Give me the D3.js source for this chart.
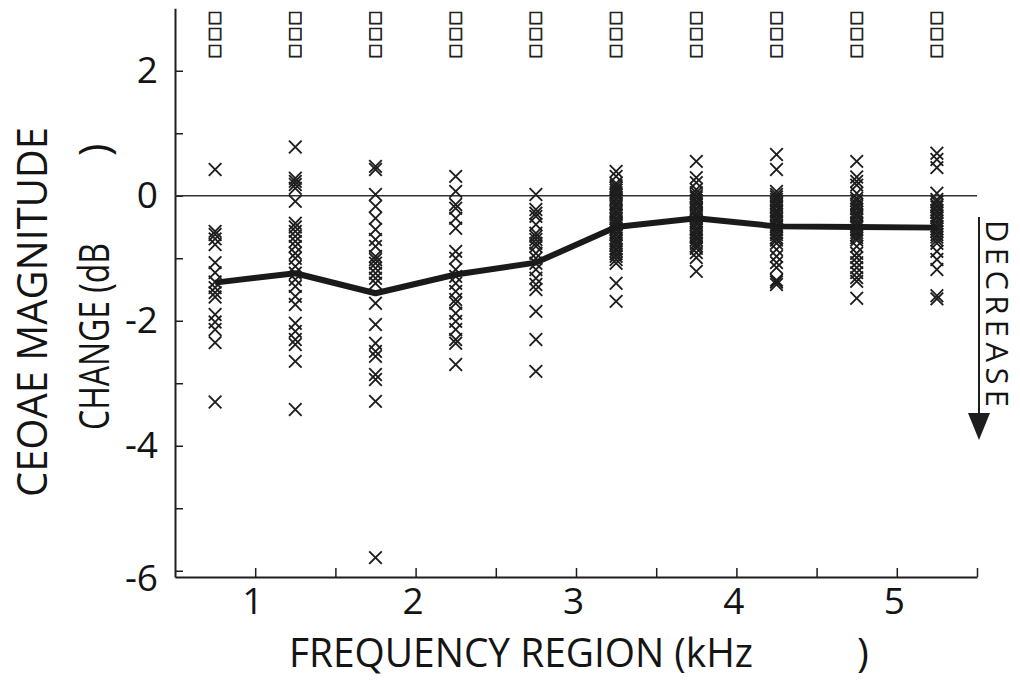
<!DOCTYPE html>
<html>
<head>
<meta charset="utf-8">
<script src="https://cdn.jsdelivr.net/npm/d3@7/dist/d3.min.js"></script>
<style>
  html, body { margin: 0; padding: 0; background: #fff; }
  svg { display: block; }
  text { font-family: "Open Sans", "Liberation Sans", sans-serif; fill: #141414; }
</style>
</head>
<body>
<svg id="chart" width="1020" height="683"></svg>
<script>
// ---------------- DATA ----------------
const regions = [0.75, 1.25, 1.75, 2.25, 2.75, 3.25, 3.75, 4.25, 4.75, 5.25];
const meanChange = [-1.39, -1.24, -1.56, -1.26, -1.07, -0.50, -0.36, -0.49, -0.50, -0.51];

const ears075 = [0.42, -0.57, -0.62, -0.69, -0.78, -1.07, -1.23, -1.38, -1.47, -1.55, -1.62, -1.90, -2.02, -2.14, -2.35, -3.30];
const ears125 = [0.78, 0.28, 0.23, 0.18, 0.12, -0.09, -0.44, -0.50, -0.57, -0.65, -0.73, -0.81, -0.92, -1.00, -1.13, -1.24, -1.34, -1.45, -1.61, -1.74, -2.04, -2.17, -2.30, -2.38, -2.65, -3.42];
const ears175 = [0.47, 0.42, 0.02, -0.17, -0.36, -0.54, -0.70, -0.81, -0.97, -1.02, -1.08, -1.16, -1.24, -1.32, -1.40, -1.72, -2.06, -2.36, -2.49, -2.57, -2.86, -2.94, -3.29, -5.79];
const ears225 = [0.31, 0.07, -0.14, -0.20, -0.36, -0.52, -0.89, -1.00, -1.18, -1.29, -1.40, -1.53, -1.66, -1.72, -1.88, -2.01, -2.14, -2.30, -2.36, -2.70];
const ears275 = [0.02, -0.22, -0.28, -0.33, -0.46, -0.60, -0.65, -0.70, -0.76, -0.81, -0.92, -1.00, -1.08, -1.18, -1.32, -1.42, -1.50, -1.85, -2.30, -2.81];
const ears325 = [0.39, 0.31, 0.20, 0.16, 0.12, 0.09, 0.05, 0.01, -0.04, -0.07, -0.12, -0.15, -0.19, -0.24, -0.27, -0.31, -0.36, -0.40, -0.44, -0.47, -0.52, -0.55, -0.60, -0.63, -0.68, -0.72, -0.76, -0.80, -0.85, -0.88, -0.93, -0.97, -1.02, -1.08, -1.40, -1.69];
const ears375 = [0.55, 0.29, 0.21, 0.10, 0.05, 0.00, -0.03, -0.08, -0.11, -0.15, -0.20, -0.23, -0.28, -0.31, -0.35, -0.40, -0.43, -0.47, -0.52, -0.55, -0.59, -0.64, -0.67, -0.71, -0.76, -0.80, -0.84, -0.91, -0.99, -1.21];
const ears425 = [0.66, 0.42, 0.07, 0.02, -0.02, -0.06, -0.11, -0.14, -0.18, -0.23, -0.26, -0.30, -0.35, -0.38, -0.42, -0.47, -0.50, -0.54, -0.59, -0.62, -0.67, -0.71, -0.76, -0.86, -0.97, -1.07, -1.15, -1.35, -1.38, -1.42];
const ears475 = [0.55, 0.30, 0.23, 0.17, 0.04, -0.04, -0.08, -0.13, -0.17, -0.21, -0.26, -0.30, -0.33, -0.38, -0.43, -0.46, -0.50, -0.55, -0.59, -0.63, -0.67, -0.71, -0.81, -0.92, -0.99, -1.07, -1.15, -1.23, -1.31, -1.37, -1.64];
const ears525 = [0.68, 0.58, 0.45, 0.04, -0.06, -0.10, -0.15, -0.18, -0.23, -0.27, -0.32, -0.35, -0.40, -0.44, -0.49, -0.53, -0.57, -0.62, -0.66, -0.71, -0.76, -0.89, -1.02, -1.18, -1.60, -1.65];

const xTickValues = [1, 1.5, 2, 2.5, 3, 3.5, 4, 4.5, 5, 5.5];
const xTickLabels = ["1", "", "2", "", "3", "", "4", "", "5", ""];
const yTickValues = [2, 1, 0, -1, -2, -3, -4, -5, -6];
const yTickLabels = ["2", "", "0", "", "-2", "", "-4", "", "-6"];
const squareMarks = ["\u25A1", "\u25A1", "\u25A1"];

const yTitleLine1 = "CEOAE MAGNITUDE";
const yTitleLine2 = "CHANGE (dB";
const xTitle = "FREQUENCY REGION (kHz";
const closeParen = ")";
const arrowLabel = "DECREASE";

// ---------------- CHART ----------------
const svg = d3.select("#chart");
const ink = "#1e1e1e";

const x = d3.scaleLinear().domain([0.5, 5.5]).range([175, 977]);
const y = d3.scaleLinear().domain([-6.1, 3]).range([577, 8.25]);

// x axis
const xAxis = d3.axisBottom(x)
  .tickValues(xTickValues)
  .tickFormat((d, i) => xTickLabels[i])
  .tickSizeInner(-9)
  .tickSizeOuter(0)
  .tickPadding(11);
const gx = svg.append("g").attr("transform", `translate(0,${y(-6.1)})`).call(xAxis);
gx.select(".domain").attr("stroke", ink).attr("stroke-width", 2);
gx.selectAll(".tick line").attr("stroke", ink).attr("stroke-width", 1.5);
gx.selectAll(".tick text").attr("font-size", 37).attr("fill", "#141414")
  .attr("font-family", "Open Sans").attr("dx", "-0.08em");

// y axis
const yAxis = d3.axisLeft(y)
  .tickValues(yTickValues)
  .tickFormat((d, i) => yTickLabels[i])
  .tickSizeInner(-8)
  .tickSizeOuter(0)
  .tickPadding(17);
const gy = svg.append("g").attr("transform", `translate(${x(0.5)},0)`).call(yAxis);
gy.select(".domain").attr("stroke", ink).attr("stroke-width", 2);
gy.selectAll(".tick line").attr("stroke", ink).attr("stroke-width", 1.5);
gy.selectAll(".tick text").attr("font-size", 37).attr("fill", "#141414")
  .attr("font-family", "Open Sans");
gy.selectAll(".tick").filter(d => d === -6).select("text").attr("dy", "0.52em");

// zero reference line
svg.append("line")
  .attr("x1", x(0.5)).attr("x2", x(5.5))
  .attr("y1", y(0)).attr("y2", y(0))
  .attr("stroke", "#333").attr("stroke-width", 1.6);

// scatter points
const columns = [ears075, ears125, ears175, ears225, ears275, ears325, ears375, ears425, ears475, ears525];
const pts = [];
columns.forEach((vals, i) => vals.forEach(v => pts.push({ r: regions[i], v })));
const cross = "M-6.3,-6.3L6.3,6.3M-6.3,6.3L6.3,-6.3";
svg.append("g").selectAll("path").data(pts).join("path")
  .attr("d", cross)
  .attr("transform", d => `translate(${x(d.r)},${y(d.v)})`)
  .attr("fill", "none").attr("stroke", ink).attr("stroke-width", 1.9);

// mean line
const line = d3.line().x((d, i) => x(regions[i])).y(d => y(d));
svg.append("path").datum(meanChange)
  .attr("d", line)
  .attr("fill", "none").attr("stroke", "#1a1a1a").attr("stroke-width", 6)
  .attr("stroke-linejoin", "round");

// square marks above columns (three separate marks per column)
const sq = [];
regions.forEach(r => squareMarks.forEach((s, j) => sq.push({ r, j, s })));
svg.append("g").selectAll("text").data(sq).join("text")
  .attr("x", d => x(d.r))
  .attr("y", d => 16 + d.j * 16.5)
  .attr("text-anchor", "middle")
  .attr("dominant-baseline", "central")
  .attr("font-family", "DejaVu Sans").attr("font-size", 20)
  .attr("stroke", "#222").attr("stroke-width", 0.8)
  .attr("fill", "#222")
  .text(d => d.s);

// y title
svg.append("text")
  .attr("transform", "translate(47,312) rotate(-90)")
  .attr("text-anchor", "middle")
  .attr("font-size", 42)
  .attr("textLength", 370).attr("lengthAdjust", "spacingAndGlyphs")
  .text(yTitleLine1);
const t2 = svg.append("text")
  .attr("transform", "translate(109,430) rotate(-90)")
  .attr("font-size", 42);
t2.append("tspan").attr("x", 0)
  .attr("textLength", 187).attr("lengthAdjust", "spacingAndGlyphs")
  .text(yTitleLine2);
t2.append("tspan").attr("x", 274).text(closeParen);

// x title
const tx = svg.append("text")
  .attr("transform", "translate(289,667)")
  .attr("font-size", 40);
tx.append("tspan").attr("x", 0)
  .attr("textLength", 464).attr("lengthAdjust", "spacingAndGlyphs")
  .text(xTitle);
tx.append("tspan").attr("x", 568).text(closeParen);

// DECREASE arrow
svg.append("line")
  .attr("x1", 979).attr("x2", 979).attr("y1", 217).attr("y2", 418)
  .attr("stroke", ink).attr("stroke-width", 2);
svg.append("path")
  .attr("d", "M968,413L990,413L979,440Z")
  .attr("fill", ink);
svg.append("text")
  .attr("transform", "translate(986,220) rotate(90)")
  .attr("font-family", "Liberation Sans")
  .attr("font-size", 31)
  .attr("textLength", 187).attr("lengthAdjust", "spacing")
  .text(arrowLabel);
</script>
</body>
</html>
